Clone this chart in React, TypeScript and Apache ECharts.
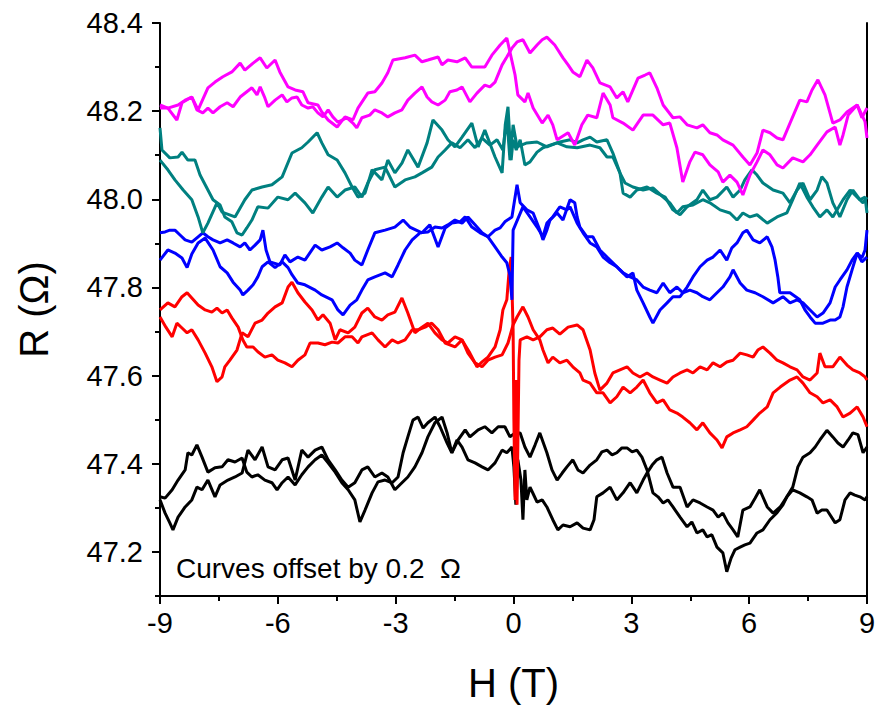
import React, { useEffect, useRef } from "react";
import * as echarts from "echarts";

// Axis ticks
const xTicks = { min: -9, max: 9, interval: 3 };
const yMajorTicks = [47.2, 47.4, 47.6, 47.8, 48.0, 48.2, 48.4];
const yMinorTicks = [47.1, 47.3, 47.5, 47.7, 47.9, 48.1, 48.3];
const yRange = { min: 47.1, max: 48.4 };

// Magenta (top, offset +0.8)
const magentaA: [number, number][] = [
  [-9.0, 48.214], [-8.8, 48.207], [-8.57, 48.18], [-8.44, 48.219], [-8.19, 48.232], [-8.03, 48.203], [-7.78, 48.253], [-7.6, 48.266], [-7.4, 48.278], [-7.17, 48.289], [-6.96, 48.309], [-6.84, 48.293], [-6.63, 48.309], [-6.45, 48.321], [-6.28, 48.298], [-6.07, 48.316], [-5.95, 48.289], [-5.74, 48.255], [-5.56, 48.248], [-5.36, 48.244], [-5.23, 48.219], [-4.98, 48.214], [-4.88, 48.198], [-4.72, 48.18], [-4.49, 48.164], [-4.29, 48.187], [-4.09, 48.18], [-3.96, 48.207], [-3.71, 48.241], [-3.53, 48.244], [-3.35, 48.264], [-3.2, 48.287], [-3.07, 48.316], [-2.76, 48.321], [-2.51, 48.327], [-2.33, 48.312], [-2.18, 48.316], [-1.92, 48.323], [-1.82, 48.305], [-1.67, 48.316], [-1.44, 48.312], [-1.23, 48.321], [-1.06, 48.3], [-0.73, 48.3], [-0.55, 48.327], [-0.34, 48.35], [-0.17, 48.366], [-0.09, 48.334],
  [0.04, 48.282], [0.11, 48.237], [0.29, 48.221], [0.37, 48.241], [0.5, 48.207], [0.73, 48.173], [0.88, 48.191], [1.0, 48.169], [1.11, 48.135], [1.39, 48.151], [1.56, 48.123], [1.74, 48.169], [1.89, 48.191], [2.12, 48.185], [2.28, 48.241], [2.46, 48.214], [2.53, 48.185], [2.79, 48.173], [3.04, 48.157], [3.3, 48.191], [3.55, 48.191], [3.81, 48.169], [3.98, 48.173], [4.16, 48.117], [4.31, 48.039], [4.49, 48.085], [4.62, 48.107], [4.82, 48.101], [5.0, 48.078], [5.21, 48.062], [5.33, 48.039], [5.51, 48.055], [5.69, 48.039], [5.84, 48.01], [6.02, 48.055], [6.2, 48.085], [6.35, 48.112], [6.53, 48.101], [6.71, 48.078], [6.86, 48.071], [7.11, 48.094], [7.37, 48.085], [7.55, 48.101], [7.73, 48.123], [7.98, 48.153], [8.19, 48.164], [8.31, 48.123], [8.39, 48.146], [8.52, 48.191], [8.75, 48.214], [8.87, 48.185], [9.0, 48.207],
];
const magentaB: [number, number][] = [
  [-9.0, 48.207], [-8.8, 48.207], [-8.54, 48.214], [-8.36, 48.225], [-8.19, 48.232], [-8.06, 48.203], [-7.91, 48.196], [-7.78, 48.207], [-7.65, 48.196], [-7.47, 48.21], [-7.29, 48.219], [-7.14, 48.21], [-6.96, 48.232], [-6.79, 48.244], [-6.66, 48.253], [-6.53, 48.237], [-6.45, 48.255], [-6.33, 48.23], [-6.25, 48.21], [-6.07, 48.225], [-5.89, 48.237], [-5.77, 48.221], [-5.64, 48.23], [-5.51, 48.232], [-5.39, 48.214], [-5.23, 48.207], [-5.11, 48.21], [-4.98, 48.196], [-4.85, 48.187], [-4.72, 48.203], [-4.6, 48.187], [-4.47, 48.175], [-4.24, 48.185], [-4.09, 48.173], [-3.99, 48.162], [-3.86, 48.185], [-3.66, 48.191], [-3.53, 48.203], [-3.35, 48.196], [-3.2, 48.187], [-3.02, 48.196], [-2.84, 48.203], [-2.69, 48.225], [-2.51, 48.241], [-2.33, 48.255], [-2.2, 48.232], [-2.08, 48.221], [-1.92, 48.214], [-1.74, 48.225], [-1.62, 48.244], [-1.44, 48.248], [-1.31, 48.255], [-1.11, 48.221], [-0.93, 48.241], [-0.73, 48.259], [-0.6, 48.255], [-0.47, 48.266], [-0.29, 48.305], [-0.17, 48.323], [-0.04, 48.343],
  [0.09, 48.357], [0.24, 48.362], [0.42, 48.332], [0.6, 48.35], [0.73, 48.362], [0.85, 48.368], [1.05, 48.35], [1.26, 48.321], [1.39, 48.305], [1.51, 48.289], [1.69, 48.278], [1.87, 48.316], [2.02, 48.298], [2.2, 48.264], [2.46, 48.255], [2.63, 48.23], [2.79, 48.244], [2.91, 48.221], [3.17, 48.275], [3.35, 48.282], [3.47, 48.287], [3.65, 48.253], [3.81, 48.214], [4.06, 48.185], [4.24, 48.187], [4.42, 48.169], [4.67, 48.162], [4.82, 48.169], [5.0, 48.151], [5.18, 48.146], [5.33, 48.135], [5.59, 48.123], [5.84, 48.096], [6.02, 48.078], [6.2, 48.105], [6.35, 48.157], [6.53, 48.151], [6.71, 48.139], [6.86, 48.135], [7.04, 48.173], [7.29, 48.225], [7.47, 48.221], [7.6, 48.248], [7.75, 48.271], [7.93, 48.237], [8.13, 48.173], [8.31, 48.18], [8.49, 48.198], [8.75, 48.214], [8.95, 48.176], [9.0, 48.139],
];

// Teal (offset +0.6)
const tealA: [number, number][] = [
  [-9.0, 48.089], [-8.8, 48.067], [-8.62, 48.044], [-8.41, 48.021], [-8.19, 47.999], [-8.03, 47.96], [-7.91, 47.924], [-7.78, 47.946], [-7.55, 47.992], [-7.42, 47.971], [-7.09, 47.96], [-6.84, 47.999], [-6.66, 48.021], [-6.4, 48.028], [-6.15, 48.033], [-5.89, 48.051], [-5.64, 48.105], [-5.39, 48.117], [-5.23, 48.13], [-5.0, 48.151], [-4.88, 48.128], [-4.72, 48.101], [-4.49, 48.089], [-4.29, 48.06], [-4.11, 48.028], [-3.96, 48.005], [-3.78, 48.014], [-3.6, 48.067], [-3.35, 48.044], [-3.2, 48.089], [-3.02, 48.06], [-2.84, 48.082], [-2.69, 48.112], [-2.43, 48.073], [-2.2, 48.128], [-2.05, 48.18], [-1.82, 48.157], [-1.67, 48.135], [-1.49, 48.119], [-1.31, 48.141], [-1.06, 48.173], [-0.9, 48.119], [-0.73, 48.157], [-0.47, 48.096], [-0.29, 48.06], [-0.21, 48.169], [-0.14, 48.21], [-0.06, 48.089], [-0.01, 48.135],
  [0.07, 48.112], [0.17, 48.135], [0.29, 48.078], [0.42, 48.085], [0.6, 48.107], [0.75, 48.117], [0.93, 48.123], [1.18, 48.13], [1.44, 48.135], [1.62, 48.128], [1.77, 48.135], [1.95, 48.141], [2.12, 48.13], [2.38, 48.135], [2.53, 48.105], [2.71, 48.06], [2.79, 48.014], [2.97, 48.005], [3.14, 48.021], [3.4, 48.028], [3.65, 48.014], [3.86, 48.005], [4.06, 47.976], [4.24, 47.965], [4.42, 47.983], [4.67, 47.999], [4.82, 48.021], [5.0, 47.999], [5.18, 48.005], [5.43, 48.028], [5.59, 48.005], [5.77, 48.021], [5.89, 48.044], [6.07, 48.067], [6.2, 48.055], [6.35, 48.037], [6.61, 48.021], [6.86, 48.014], [7.04, 47.992], [7.22, 48.021], [7.37, 48.037], [7.55, 47.999], [7.73, 48.021], [7.85, 48.051], [7.98, 48.037], [8.13, 47.992], [8.31, 47.96], [8.49, 47.999], [8.64, 48.021], [8.82, 47.999], [8.95, 48.005], [9.0, 47.969],
];
const tealB: [number, number][] = [
  [-9.0, 48.162], [-8.95, 48.112], [-8.75, 48.094], [-8.54, 48.096], [-8.44, 48.107], [-8.29, 48.089], [-8.11, 48.089], [-7.98, 48.055], [-7.85, 48.033], [-7.65, 47.999], [-7.47, 47.987], [-7.35, 47.96], [-7.17, 47.949], [-7.04, 47.924], [-6.91, 47.919], [-6.79, 47.935], [-6.66, 47.953], [-6.51, 47.983], [-6.25, 47.98], [-6.0, 48.005], [-5.74, 47.999], [-5.56, 48.014], [-5.31, 47.992], [-5.11, 47.969], [-4.88, 48.005], [-4.72, 48.028], [-4.49, 48.005], [-4.29, 48.021], [-4.04, 48.028], [-3.86, 48.005], [-3.71, 48.037], [-3.53, 48.067], [-3.27, 48.073], [-3.02, 48.028], [-2.76, 48.044], [-2.51, 48.051], [-2.33, 48.06], [-2.08, 48.073], [-1.92, 48.096], [-1.74, 48.112], [-1.57, 48.128], [-1.36, 48.117], [-1.16, 48.135], [-0.98, 48.117], [-0.8, 48.139], [-0.6, 48.123], [-0.42, 48.135], [-0.27, 48.112], [-0.17, 48.184], [-0.09, 48.089], [-0.01, 48.169],
  [0.09, 48.119], [0.34, 48.128], [0.6, 48.13], [0.85, 48.119], [1.11, 48.128], [1.36, 48.119], [1.62, 48.117], [1.95, 48.123], [2.2, 48.117], [2.38, 48.096], [2.53, 48.096], [2.71, 48.06], [2.84, 48.037], [3.04, 48.028], [3.3, 48.021], [3.55, 48.026], [3.81, 48.005], [3.98, 47.992], [4.16, 47.969], [4.31, 47.983], [4.57, 47.987], [4.82, 47.999], [5.0, 47.992], [5.26, 47.976], [5.51, 47.969], [5.69, 47.953], [5.84, 47.969], [6.02, 47.96], [6.2, 47.965], [6.46, 47.946], [6.71, 47.96], [6.96, 47.969], [7.11, 47.999], [7.29, 48.037], [7.47, 48.005], [7.62, 47.983], [7.8, 47.96], [7.98, 47.976], [8.13, 47.96], [8.39, 47.999], [8.57, 48.021], [8.75, 48.005], [8.9, 47.992], [9.0, 48.005],
];

// Blue (offset +0.4)
const blueA: [number, number][] = [
  [-9.0, 47.924], [-8.87, 47.926], [-8.75, 47.93], [-8.62, 47.93], [-8.49, 47.919], [-8.36, 47.908], [-8.19, 47.903], [-8.03, 47.915], [-7.91, 47.924], [-7.78, 47.915], [-7.65, 47.908], [-7.47, 47.901], [-7.29, 47.908], [-7.14, 47.901], [-6.96, 47.892], [-6.84, 47.901], [-6.71, 47.885], [-6.58, 47.896], [-6.45, 47.908], [-6.38, 47.93], [-6.3, 47.885], [-6.2, 47.858], [-5.95, 47.851], [-5.82, 47.874], [-5.69, 47.858], [-5.49, 47.869], [-5.31, 47.862], [-5.05, 47.896], [-4.88, 47.885], [-4.67, 47.892], [-4.49, 47.901], [-4.34, 47.89], [-4.16, 47.878], [-4.04, 47.862], [-3.86, 47.851], [-3.71, 47.885], [-3.53, 47.924], [-3.27, 47.93], [-3.02, 47.937], [-2.81, 47.953], [-2.64, 47.937], [-2.33, 47.924], [-2.13, 47.942], [-1.92, 47.892], [-1.74, 47.935], [-1.57, 47.946], [-1.36, 47.949], [-1.23, 47.96], [-1.06, 47.937], [-0.85, 47.924], [-0.65, 47.915], [-0.47, 47.892], [-0.29, 47.869], [-0.17, 47.856], [-0.09, 47.828], [-0.04, 47.772], [-0.01, 47.93],
  [0.24, 47.983], [0.42, 47.96], [0.6, 47.937], [0.75, 47.915], [0.85, 47.946], [1.0, 47.96], [1.18, 47.983], [1.36, 47.976], [1.44, 47.983], [1.62, 47.946], [1.77, 47.924], [1.95, 47.901], [2.12, 47.892], [2.28, 47.869], [2.46, 47.856], [2.63, 47.847], [2.79, 47.833], [2.97, 47.824], [3.14, 47.817], [3.3, 47.801], [3.47, 47.794], [3.65, 47.788], [3.81, 47.81], [3.98, 47.788], [4.16, 47.801], [4.31, 47.788], [4.49, 47.794], [4.67, 47.788], [4.82, 47.779], [5.0, 47.772], [5.18, 47.788], [5.33, 47.801], [5.51, 47.824], [5.59, 47.84], [5.77, 47.81], [5.94, 47.794], [6.15, 47.788], [6.35, 47.779], [6.61, 47.765], [6.86, 47.779], [7.04, 47.765], [7.22, 47.772], [7.37, 47.765], [7.55, 47.749], [7.73, 47.733], [7.88, 47.742], [8.06, 47.765], [8.19, 47.801], [8.31, 47.817], [8.49, 47.84], [8.62, 47.862], [8.75, 47.878], [8.87, 47.858], [9.0, 47.869],
];
const blueB: [number, number][] = [
  [-9.0, 47.862], [-8.8, 47.885], [-8.62, 47.878], [-8.44, 47.867], [-8.31, 47.845], [-8.19, 47.876], [-8.03, 47.901], [-7.85, 47.912], [-7.65, 47.885], [-7.47, 47.847], [-7.29, 47.833], [-7.14, 47.812], [-6.96, 47.794], [-6.89, 47.783], [-6.76, 47.794], [-6.63, 47.806], [-6.51, 47.824], [-6.4, 47.847], [-6.25, 47.858], [-6.07, 47.845], [-5.89, 47.858], [-5.74, 47.845], [-5.64, 47.829], [-5.49, 47.81], [-5.31, 47.806], [-5.05, 47.794], [-4.88, 47.783], [-4.62, 47.772], [-4.47, 47.749], [-4.34, 47.738], [-4.16, 47.76], [-3.99, 47.772], [-3.86, 47.794], [-3.71, 47.817], [-3.53, 47.824], [-3.27, 47.833], [-3.09, 47.824], [-2.94, 47.851], [-2.76, 47.885], [-2.58, 47.908], [-2.38, 47.924], [-2.18, 47.926], [-2.0, 47.937], [-1.82, 47.935], [-1.67, 47.942], [-1.49, 47.953], [-1.31, 47.946], [-1.16, 47.96], [-0.98, 47.942], [-0.8, 47.924], [-0.65, 47.915], [-0.47, 47.93], [-0.34, 47.935], [-0.22, 47.949], [-0.04, 47.96],
  [0.09, 48.033], [0.17, 47.992], [0.34, 47.976], [0.5, 47.969], [0.67, 47.93], [0.75, 47.908], [0.85, 47.93], [0.93, 47.953], [1.11, 47.969], [1.26, 47.953], [1.44, 47.999], [1.56, 47.992], [1.62, 47.96], [1.69, 47.937], [1.87, 47.915], [2.02, 47.915], [2.2, 47.885], [2.38, 47.869], [2.53, 47.856], [2.71, 47.84], [2.89, 47.824], [3.04, 47.833], [3.14, 47.794], [3.3, 47.765], [3.47, 47.733], [3.55, 47.719], [3.73, 47.749], [3.91, 47.765], [4.06, 47.779], [4.24, 47.779], [4.42, 47.801], [4.57, 47.824], [4.75, 47.847], [4.93, 47.862], [5.08, 47.869], [5.26, 47.885], [5.43, 47.862], [5.56, 47.89], [5.69, 47.901], [5.84, 47.924], [5.94, 47.93], [6.1, 47.908], [6.27, 47.901], [6.46, 47.915], [6.58, 47.892], [6.66, 47.862], [6.73, 47.824], [6.78, 47.788], [7.04, 47.788], [7.29, 47.772], [7.42, 47.749], [7.55, 47.733], [7.68, 47.719], [7.88, 47.719], [8.06, 47.726], [8.19, 47.726], [8.31, 47.733], [8.39, 47.756], [8.49, 47.801], [8.62, 47.84], [8.75, 47.878], [8.87, 47.867], [8.95, 47.885], [9.0, 47.93],
];

// Red (offset +0.2)
const redA: [number, number][] = [
  [-9.0, 47.749], [-8.8, 47.765], [-8.62, 47.756], [-8.44, 47.779], [-8.31, 47.788], [-8.19, 47.776], [-8.03, 47.76], [-7.85, 47.749], [-7.68, 47.744], [-7.55, 47.753], [-7.42, 47.742], [-7.29, 47.749], [-7.17, 47.731], [-7.01, 47.71], [-6.89, 47.681], [-6.79, 47.665], [-6.63, 47.665], [-6.51, 47.654], [-6.33, 47.642], [-6.15, 47.647], [-6.0, 47.635], [-5.82, 47.629], [-5.64, 47.62], [-5.49, 47.635], [-5.31, 47.647], [-5.18, 47.674], [-4.98, 47.674], [-4.8, 47.67], [-4.62, 47.676], [-4.47, 47.674], [-4.29, 47.688], [-4.11, 47.688], [-3.96, 47.674], [-3.86, 47.688], [-3.6, 47.697], [-3.45, 47.681], [-3.27, 47.665], [-3.09, 47.681], [-2.94, 47.674], [-2.76, 47.681], [-2.58, 47.704], [-2.43, 47.704], [-2.25, 47.71], [-2.08, 47.719], [-1.92, 47.704], [-1.74, 47.674], [-1.49, 47.665], [-1.31, 47.681], [-1.16, 47.651], [-0.98, 47.629], [-0.8, 47.62], [-0.65, 47.635], [-0.47, 47.642], [-0.29, 47.647], [-0.14, 47.674], [-0.01, 47.715],
  [0.09, 47.733], [0.24, 47.756], [0.37, 47.733], [0.5, 47.704], [0.67, 47.681], [0.75, 47.658], [0.88, 47.629], [1.0, 47.642], [1.18, 47.629], [1.36, 47.635], [1.51, 47.62], [1.69, 47.606], [1.77, 47.59], [1.95, 47.583], [2.12, 47.561], [2.28, 47.561], [2.46, 47.538], [2.63, 47.552], [2.79, 47.574], [2.97, 47.561], [3.14, 47.574], [3.3, 47.59], [3.47, 47.561], [3.65, 47.538], [3.81, 47.545], [3.98, 47.522], [4.16, 47.515], [4.31, 47.506], [4.49, 47.493], [4.67, 47.477], [4.82, 47.493], [5.0, 47.47], [5.18, 47.454], [5.31, 47.436], [5.43, 47.461], [5.59, 47.47], [5.77, 47.477], [5.94, 47.484], [6.1, 47.499], [6.27, 47.515], [6.46, 47.529], [6.61, 47.561], [6.79, 47.574], [7.04, 47.59], [7.22, 47.597], [7.37, 47.583], [7.55, 47.561], [7.73, 47.552], [7.88, 47.538], [8.06, 47.545], [8.24, 47.529], [8.39, 47.506], [8.57, 47.515], [8.75, 47.529], [8.9, 47.506], [9.0, 47.484],
];
const redB: [number, number][] = [
  [-9.0, 47.733], [-8.85, 47.71], [-8.69, 47.688], [-8.57, 47.719], [-8.44, 47.708], [-8.31, 47.697], [-8.19, 47.704], [-8.03, 47.681], [-7.85, 47.651], [-7.68, 47.62], [-7.55, 47.586], [-7.42, 47.597], [-7.35, 47.62], [-7.22, 47.635], [-7.04, 47.658], [-6.91, 47.697], [-6.76, 47.688], [-6.58, 47.719], [-6.4, 47.726], [-6.25, 47.742], [-6.07, 47.756], [-5.89, 47.765], [-5.74, 47.801], [-5.64, 47.812], [-5.49, 47.788], [-5.31, 47.767], [-5.13, 47.749], [-4.98, 47.726], [-4.85, 47.738], [-4.67, 47.719], [-4.54, 47.681], [-4.42, 47.704], [-4.21, 47.697], [-4.04, 47.71], [-3.86, 47.742], [-3.71, 47.753], [-3.53, 47.733], [-3.35, 47.726], [-3.2, 47.738], [-3.02, 47.744], [-2.84, 47.776], [-2.69, 47.742], [-2.51, 47.697], [-2.33, 47.71], [-2.18, 47.719], [-2.0, 47.697], [-1.82, 47.681], [-1.67, 47.674], [-1.49, 47.688], [-1.31, 47.681], [-1.11, 47.651], [-0.93, 47.62], [-0.8, 47.631], [-0.65, 47.642], [-0.47, 47.665], [-0.34, 47.704], [-0.27, 47.749], [-0.17, 47.772], [-0.11, 47.84], [-0.06, 47.869], [-0.04, 47.801],
  [-0.01, 47.704], [0.01, 47.5], [0.04, 47.318], [0.06, 47.59], [0.09, 47.307], [0.14, 47.635], [0.17, 47.681], [0.34, 47.688], [0.5, 47.681], [0.67, 47.688], [0.85, 47.704], [1.0, 47.708], [1.18, 47.694], [1.39, 47.71], [1.62, 47.715], [1.77, 47.704], [1.95, 47.658], [2.07, 47.606], [2.2, 47.567], [2.38, 47.583], [2.53, 47.606], [2.71, 47.613], [2.89, 47.62], [3.04, 47.606], [3.22, 47.597], [3.4, 47.606], [3.55, 47.597], [3.73, 47.59], [3.91, 47.583], [4.06, 47.597], [4.24, 47.606], [4.42, 47.613], [4.57, 47.606], [4.75, 47.62], [4.93, 47.613], [5.08, 47.629], [5.26, 47.62], [5.43, 47.631], [5.59, 47.635], [5.77, 47.651], [5.94, 47.647], [6.1, 47.642], [6.22, 47.658], [6.35, 47.665], [6.53, 47.651], [6.71, 47.635], [6.86, 47.629], [7.04, 47.62], [7.22, 47.613], [7.37, 47.597], [7.55, 47.59], [7.73, 47.606], [7.8, 47.651], [7.93, 47.62], [8.13, 47.62], [8.31, 47.642], [8.49, 47.624], [8.64, 47.613], [8.82, 47.606], [8.95, 47.597], [9.0, 47.59],
];

// Black (no offset)
const blackA: [number, number][] = [
  [-9.0, 47.325], [-8.87, 47.322], [-8.69, 47.341], [-8.54, 47.363], [-8.36, 47.386], [-8.29, 47.425], [-8.19, 47.42], [-8.06, 47.443], [-7.93, 47.415], [-7.78, 47.381], [-7.6, 47.391], [-7.42, 47.393], [-7.27, 47.409], [-7.09, 47.404], [-6.91, 47.413], [-6.79, 47.381], [-6.66, 47.37], [-6.51, 47.375], [-6.33, 47.363], [-6.15, 47.357], [-6.02, 47.341], [-5.89, 47.357], [-5.74, 47.37], [-5.56, 47.352], [-5.39, 47.375], [-5.23, 47.393], [-5.05, 47.409], [-4.88, 47.42], [-4.72, 47.402], [-4.54, 47.381], [-4.37, 47.357], [-4.21, 47.341], [-4.04, 47.318], [-3.91, 47.268], [-3.78, 47.295], [-3.6, 47.334], [-3.45, 47.359], [-3.27, 47.363], [-3.09, 47.357], [-2.94, 47.37], [-2.81, 47.425], [-2.69, 47.461], [-2.56, 47.499], [-2.43, 47.506], [-2.3, 47.481], [-2.18, 47.493], [-2.0, 47.506], [-1.87, 47.484], [-1.69, 47.447], [-1.57, 47.425], [-1.41, 47.454], [-1.23, 47.477], [-1.11, 47.461], [-0.9, 47.477], [-0.73, 47.484], [-0.55, 47.47], [-0.39, 47.484], [-0.22, 47.484], [-0.09, 47.461],
  [0.04, 47.47], [0.17, 47.47], [0.29, 47.438], [0.42, 47.415], [0.55, 47.443], [0.67, 47.47], [0.85, 47.425], [0.98, 47.386], [1.11, 47.363], [1.24, 47.379], [1.36, 47.393], [1.51, 47.409], [1.64, 47.386], [1.77, 47.379], [1.95, 47.397], [2.12, 47.409], [2.25, 47.427], [2.38, 47.431], [2.51, 47.42], [2.63, 47.425], [2.76, 47.436], [2.89, 47.436], [3.02, 47.427], [3.14, 47.431], [3.27, 47.415], [3.4, 47.386], [3.55, 47.334], [3.68, 47.325], [3.81, 47.311], [3.93, 47.318], [4.06, 47.302], [4.24, 47.279], [4.42, 47.257], [4.54, 47.268], [4.67, 47.243], [4.82, 47.25], [4.93, 47.234], [5.05, 47.239], [5.18, 47.211], [5.33, 47.198], [5.43, 47.155], [5.54, 47.186], [5.64, 47.205], [5.77, 47.211], [5.89, 47.216], [6.02, 47.22], [6.2, 47.243], [6.35, 47.25], [6.53, 47.273], [6.71, 47.289], [6.86, 47.307], [6.96, 47.325], [7.11, 47.347], [7.24, 47.393], [7.37, 47.415], [7.55, 47.425], [7.68, 47.438], [7.8, 47.454], [7.98, 47.476], [8.13, 47.461], [8.26, 47.447], [8.39, 47.438], [8.52, 47.454], [8.64, 47.47], [8.77, 47.466], [8.9, 47.425], [9.0, 47.438],
];
const blackB: [number, number][] = [
  [-9.0, 47.318], [-8.87, 47.288], [-8.75, 47.266], [-8.67, 47.25], [-8.54, 47.279], [-8.36, 47.302], [-8.19, 47.318], [-8.06, 47.347], [-7.93, 47.341], [-7.78, 47.363], [-7.6, 47.325], [-7.47, 47.352], [-7.27, 47.363], [-7.09, 47.37], [-6.91, 47.379], [-6.76, 47.431], [-6.58, 47.409], [-6.4, 47.438], [-6.25, 47.393], [-6.07, 47.386], [-5.89, 47.409], [-5.74, 47.413], [-5.56, 47.363], [-5.39, 47.431], [-5.23, 47.415], [-5.05, 47.431], [-4.88, 47.438], [-4.72, 47.409], [-4.54, 47.386], [-4.37, 47.363], [-4.21, 47.347], [-4.04, 47.357], [-3.86, 47.386], [-3.71, 47.393], [-3.53, 47.37], [-3.35, 47.379], [-3.2, 47.37], [-3.02, 47.341], [-2.84, 47.357], [-2.69, 47.37], [-2.51, 47.393], [-2.33, 47.425], [-2.18, 47.461], [-2.0, 47.493], [-1.82, 47.506], [-1.69, 47.47], [-1.57, 47.425], [-1.44, 47.454], [-1.31, 47.438], [-1.16, 47.409], [-0.98, 47.402], [-0.8, 47.393], [-0.65, 47.386], [-0.47, 47.402], [-0.29, 47.431], [-0.17, 47.425], [-0.04, 47.438],
  [0.01, 47.393], [0.06, 47.307], [0.11, 47.409], [0.19, 47.363], [0.24, 47.273], [0.29, 47.386], [0.34, 47.318], [0.42, 47.347], [0.5, 47.332], [0.6, 47.313], [0.73, 47.318], [0.85, 47.302], [1.0, 47.273], [1.13, 47.25], [1.26, 47.261], [1.44, 47.257], [1.62, 47.266], [1.77, 47.254], [1.95, 47.25], [2.05, 47.273], [2.12, 47.325], [2.28, 47.334], [2.46, 47.347], [2.63, 47.318], [2.79, 47.334], [2.97, 47.357], [3.14, 47.334], [3.3, 47.363], [3.4, 47.379], [3.53, 47.397], [3.65, 47.409], [3.78, 47.415], [3.91, 47.379], [4.06, 47.347], [4.24, 47.347], [4.42, 47.302], [4.57, 47.318], [4.75, 47.311], [4.93, 47.302], [5.08, 47.295], [5.21, 47.279], [5.33, 47.288], [5.46, 47.266], [5.59, 47.25], [5.71, 47.234], [5.84, 47.295], [6.02, 47.302], [6.15, 47.322], [6.27, 47.341], [6.46, 47.302], [6.61, 47.288], [6.79, 47.302], [6.96, 47.325], [7.11, 47.341], [7.29, 47.334], [7.47, 47.325], [7.6, 47.318], [7.73, 47.288], [7.85, 47.295], [7.98, 47.295], [8.19, 47.266], [8.31, 47.273], [8.44, 47.318], [8.57, 47.334], [8.69, 47.329], [8.82, 47.325], [8.95, 47.318], [9.0, 47.325],
];

const seriesDefs: { data: [number, number][]; color: string }[] = [
  { data: blackA, color: "#000000" },
  { data: blackB, color: "#000000" },
  { data: redA, color: "#FF0000" },
  { data: redB, color: "#FF0000" },
  { data: blueA, color: "#0000FF" },
  { data: blueB, color: "#0000FF" },
  { data: tealA, color: "#008080" },
  { data: tealB, color: "#008080" },
  { data: magentaA, color: "#FF00FF" },
  { data: magentaB, color: "#FF00FF" },
];

const FONT = "'Liberation Sans', Arial, Helvetica, sans-serif";
const AXIS_COLOR = "#000000";

export default function App() {
  const ref = useRef<HTMLDivElement>(null);
  useEffect(() => {
    if (!ref.current) return;
    const chart = echarts.init(ref.current, null, { renderer: "svg" });
    const option: any = {
      animation: false,
      backgroundColor: "#ffffff",
      grid: { left: 160, right: 9, top: 23, bottom: 113, containLabel: false, outerBoundsMode: "none" },
      xAxis: {
        type: "value",
        min: xTicks.min,
        max: xTicks.max,
        interval: xTicks.interval,
        axisLine: { show: true, onZero: false, lineStyle: { color: AXIS_COLOR, width: 2 } },
        axisTick: { show: true, inside: false, length: 8, lineStyle: { color: AXIS_COLOR, width: 2 } },
        minorTick: { show: true, splitNumber: 2, length: 5, lineStyle: { color: AXIS_COLOR, width: 2 } },
        splitLine: { show: false },
        axisLabel: { color: "#000", fontSize: 29, fontFamily: FONT, margin: 12 },
        name: "H (T)",
        nameLocation: "middle",
        nameGap: 67,
        nameTextStyle: { color: "#000", fontSize: 40, fontFamily: FONT },
      },
      yAxis: [
        {
          type: "value",
          min: yRange.min,
          max: yRange.max,
          position: "left",
          axisLine: { show: true, onZero: false, lineStyle: { color: AXIS_COLOR, width: 2 } },
          axisTick: { show: true, inside: false, length: 8, customValues: yMajorTicks, lineStyle: { color: AXIS_COLOR, width: 2 } },
          axisLabel: {
            show: true,
            customValues: yMajorTicks,
            formatter: (v: number) => v.toFixed(1),
            color: "#000",
            fontSize: 29,
            fontFamily: FONT,
            margin: 17,
          },
          splitLine: { show: false },
          name: "R (\u03A9)",
          nameLocation: "middle",
          nameGap: 106,
          nameTextStyle: { color: "#000", fontSize: 40, fontFamily: FONT },
        },
        {
          type: "value",
          min: yRange.min,
          max: yRange.max,
          position: "left",
          axisLine: { show: false, onZero: false },
          axisTick: { show: true, inside: false, length: 5, customValues: yMinorTicks, lineStyle: { color: AXIS_COLOR, width: 2 } },
          axisLabel: { show: false },
          splitLine: { show: false },
        },
        {
          type: "value",
          min: yRange.min,
          max: yRange.max,
          position: "right",
          axisLine: { show: true, onZero: false, lineStyle: { color: AXIS_COLOR, width: 2 } },
          axisTick: { show: false },
          axisLabel: { show: false },
          splitLine: { show: false },
        },
      ],
      graphic: [
        {
          type: "text",
          left: 176,
          top: 554,
          style: { text: "Curves offset by 0.2  \u03A9", fontSize: 28, fontFamily: FONT, fill: "#000" },
        },
      ],
      series: seriesDefs.map((s) => ({
        type: "line",
        data: s.data,
        yAxisIndex: 0,
        showSymbol: false,
        symbol: "none",
        silent: true,
        lineStyle: { color: s.color, width: 3 },
        itemStyle: { color: s.color },
      })),
    };
    chart.setOption(option);
    return () => chart.dispose();
  }, []);
  return (
    <div
      ref={ref}
      style={{ position: "fixed", left: 0, top: 0, width: 876, height: 709, background: "#fff" }}
    />
  );
}
